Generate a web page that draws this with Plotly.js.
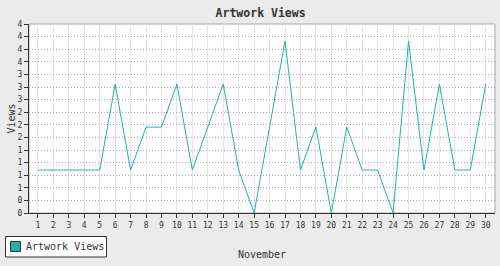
<!DOCTYPE html>
<html>
<head>
<meta charset="utf-8">
<script src="https://cdn.plot.ly/plotly-3.0.1.min.js"></script>
<style>html,body{margin:0;padding:0;background:#ebebeb;}#chart{width:500px;height:266px;}</style>
</head>
<body>
<div id="chart"></div>
<script>
// Data
const days = [1,2,3,4,5,6,7,8,9,10,11,12,13,14,15,16,17,18,19,20,21,22,23,24,25,26,27,28,29,30];
const views = [1,1,1,1,1,3,1,2,2,3,1,2,3,1,0,2,4,1,2,0,2,1,1,0,4,1,3,1,1,3];
const seriesName = 'Artwork Views';
const chartTitle = 'Artwork Views';
const xTitle = 'November';
const yTitle = 'Views';
const yMax = 4.4;
const yTickCount = 15;
const yTickText = ['0','0','1','1','1','1','2','2','2','3','3','3','4','4','4','4'];

const yTickVals = yTickText.map((_, i) => i * yMax / yTickCount);

const mono = 'DejaVu Sans Mono, monospace';
const teal = '#20b2aa';
const dark = '#333333';

// plot-area geometry (pixels) used to place the legend key below the plot
const M = {l: 29, r: 5, t: 24, b: 53};
const W = 500, H = 266;
const pw = W - M.l - M.r, ph = H - M.t - M.b;
const px = v => (v - M.l) / pw;
const py = v => (H - M.b - v) / ph;

const traces = [
  {
    type: 'scatter', mode: 'lines', x: days, y: views, name: seriesName,
    line: {color: teal, width: 1}, showlegend: false, cliponaxis: false, hoverinfo: 'skip'
  }
];

const layout = {
  width: W, height: H,
  paper_bgcolor: '#ebebeb', plot_bgcolor: '#ffffff',
  margin: {l: M.l, r: M.r, t: M.t, b: M.b, pad: 0, autoexpand: false},
  font: {family: mono, size: 8, color: dark},
  showlegend: false,
  title: {
    text: '<b>' + chartTitle + '</b>',
    font: {family: mono, size: 11.5, color: dark},
    x: 0.497, xanchor: 'center', xref: 'paper',
    y: 1 - 12.5/266, yanchor: 'middle', yref: 'container'
  },
  xaxis: {
    range: [0.42, 30.6], tickmode: 'array', tickvals: days, ticktext: days.map(String),
    showgrid: true, gridcolor: '#e6e6e6', gridwidth: 1,
    showline: true, linecolor: dark, linewidth: 1,
    ticks: 'outside', ticklen: 4, tickcolor: dark, tickwidth: 1,
    tickfont: {family: mono, size: 8, color: dark},
    zeroline: false, fixedrange: true,
    title: {text: xTitle, font: {family: mono, size: 10, color: dark}, standoff: 22}
  },
  yaxis: {
    range: [0, yMax], tickmode: 'array', tickvals: yTickVals, ticktext: yTickText,
    showgrid: true, gridcolor: '#a8a8a8', gridwidth: 1, griddash: '1px,2px',
    showline: true, linecolor: dark, linewidth: 1,
    ticks: 'outside', ticklen: 4, tickcolor: dark, tickwidth: 1,
    tickfont: {family: mono, size: 8, color: dark},
    zeroline: false, fixedrange: true,
    title: {text: yTitle, font: {family: mono, size: 10, color: dark}, standoff: 0}
  },
  shapes: [
    {type: 'rect', xref: 'paper', yref: 'paper', x0: 0, x1: 1, y0: 0, y1: 1,
     line: {color: '#a8a8a8', width: 1}, layer: 'below'},
    // legend box
    {type: 'rect', xref: 'paper', yref: 'paper', x0: px(5.5), x1: px(106.5), y0: py(257), y1: py(236.5),
     line: {color: dark, width: 1}, fillcolor: '#ffffff', layer: 'above'},
    // legend swatch
    {type: 'rect', xref: 'paper', yref: 'paper', x0: px(10.5), x1: px(20.5), y0: py(251.5), y1: py(241.5),
     line: {color: dark, width: 1}, fillcolor: teal, layer: 'above'}
  ],
  annotations: [
    {text: seriesName, xref: 'paper', yref: 'paper', x: px(24), y: py(246.5),
     xanchor: 'left', yanchor: 'middle', showarrow: false,
     font: {family: mono, size: 10, color: dark}}
  ],
  hovermode: false
};

Plotly.newPlot('chart', traces, layout, {displayModeBar: false, staticPlot: true});
</script>
</body>
</html>
